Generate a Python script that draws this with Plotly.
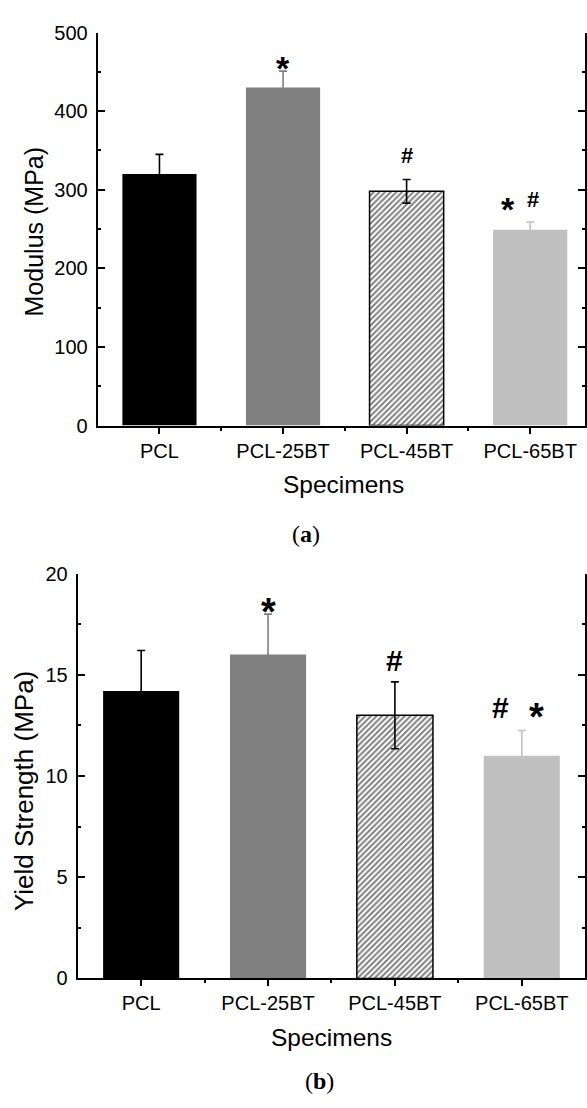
import plotly.graph_objects as go

# ---------------- data ----------------
categories = ["PCL", "PCL-25BT", "PCL-45BT", "PCL-65BT"]
modulus = [320, 430, 298, 249]
modulus_err = [25, 21, 15, 10]
yield_strength = [14.2, 16.0, 13.0, 11.0]
yield_err = [2.0, 2.0, 1.65, 1.25]

bar_colors = ["#000000", "#808080", "#ffffff", "#c0c0c0"]
err_colors = ["#000000", "#808080", "#000000", "#c0c0c0"]
hatch = ["", "", "/", ""]

# significance markers: (x position, text, y position in data units)
sig_a = [(1.0, "*", 467), (2.0, "#", 343), (2.82, "*", 287), (3.02, "#", 287)]
sig_b = [(1.0, "*", 18.6), (2.0, "#", 15.7), (2.83, "#", 13.4), (3.12, "*", 13.4)]

y_ticks_a = [0, 100, 200, 300, 400, 500]
y_ticks_b = [0, 5, 10, 15, 20]

W, H = 587, 1108
FONT = "Liberation Sans, Arial, sans-serif"
SERIF = "Liberation Serif, DejaVu Serif, serif"

fig = go.Figure()
xs = list(range(len(categories)))


def add_bars(values, errs, xa, ya):
    for i, cat in enumerate(categories):
        fig.add_trace(go.Bar(
            x=[xs[i]], y=[values[i]], name=cat, width=0.6,
            marker=dict(
                color=bar_colors[i],
                line=dict(color="#000000", width=1.5 if hatch[i] else 0),
                pattern=dict(shape=hatch[i], fgcolor="#000000", bgcolor="#ffffff",
                             size=4, solidity=0.5) if hatch[i] else None,
            ),
            error_y=dict(type="data", array=[errs[i]], visible=True,
                         color=err_colors[i], thickness=1.6, width=4),
            xaxis=xa, yaxis=ya, showlegend=False,
        ))


add_bars(modulus, modulus_err, "x", "y")
add_bars(yield_strength, yield_err, "x2", "y2")


def px_x(p):
    return p / W


def px_y(p):
    return 1 - p / H


axis_common = dict(showline=True, linecolor="#000000", linewidth=2,
                   showgrid=False, zeroline=False,
                   tickfont=dict(family=FONT, size=20, color="#000000"))

xa_dom = [px_x(98), 1.0]
xa_range = [-0.5, -0.5 + (W - 98) / 124.0]
xb_dom = [px_x(78), 1.0]
xb_range = [-0.5, -0.5 + (W - 78) / 127.3]

ya_dom = [px_y(423), px_y(22)]
yb_dom = [px_y(987), px_y(574)]

tick_style = dict(tickwidth=1.5, tickcolor="#000000")
minor_x_out = dict(tickvals=[0.5, 1.5, 2.5], ticks="outside", ticklen=3, **tick_style)
minor_x_in = dict(tickvals=[0.5, 1.5, 2.5], ticks="inside", ticklen=3, **tick_style)

fig.update_layout(
    width=W, height=H,
    margin=dict(l=0, r=0, t=0, b=0),
    paper_bgcolor="#ffffff", plot_bgcolor="#ffffff",
    barmode="overlay",
    xaxis=dict(axis_common, domain=xa_dom, range=xa_range, anchor="y",
               tickvals=xs, ticktext=categories, ticks="outside", ticklen=6,
               minor=minor_x_out, **tick_style),
    xaxis3=dict(axis_common, domain=xa_dom, range=xa_range, anchor="y",
                overlaying="x", side="top", tickvals=xs, showticklabels=False,
                ticks="inside", ticklen=6, minor=minor_x_in, **tick_style),
    yaxis=dict(axis_common, domain=ya_dom, range=[0, 500], anchor="x",
               tickvals=y_ticks_a, ticks="inside", ticklen=7, mirror="ticks",
               ticklabelstandoff=4,
               minor=dict(dtick=50, ticks="inside", ticklen=3, **tick_style),
               **tick_style),
    xaxis2=dict(axis_common, domain=xb_dom, range=xb_range, anchor="y2",
                tickvals=xs, ticktext=categories, ticks="outside", ticklen=6,
                minor=minor_x_out, **tick_style),
    xaxis4=dict(axis_common, domain=xb_dom, range=xb_range, anchor="y2",
                overlaying="x2", side="top", tickvals=xs, showticklabels=False,
                ticks="inside", ticklen=6, minor=minor_x_in, **tick_style),
    yaxis2=dict(axis_common, domain=yb_dom, range=[0, 20], anchor="x2",
                tickvals=y_ticks_b, ticks="inside", ticklen=7, mirror="ticks",
                ticklabelstandoff=4,
                minor=dict(dtick=2.5, ticks="inside", ticklen=3, **tick_style),
                **tick_style),
)

annotations = []
for (x, t, y) in sig_a:
    annotations.append(dict(x=x, y=y, xref="x", yref="y", text="<b>%s</b>" % t,
                            showarrow=False, xanchor="center", yanchor="middle",
                            font=dict(family=FONT, size=34 if t == "*" else 22,
                                      color="#000000"),
                            yshift=-9 if t == "*" else 0))
for (x, t, y) in sig_b:
    annotations.append(dict(x=x, y=y, xref="x2", yref="y2", text="<b>%s</b>" % t,
                            showarrow=False, xanchor="center", yanchor="middle",
                            font=dict(family=FONT, size=38 if t == "*" else 30,
                                      color="#000000"),
                            yshift=-10 if t == "*" else 0))


def label(x, y, text, size=24, angle=0, family=FONT):
    return dict(x=px_x(x), y=px_y(y), xref="paper", yref="paper", text=text,
                textangle=angle, showarrow=False, xanchor="center",
                yanchor="middle", font=dict(family=family, size=size,
                                            color="#000000"))


annotations += [
    label(34, 225, "Modulus (MPa)", size=25, angle=-90),
    label(345, 483, "Specimens", size=24.5),
    label(307, 534, "(<b>a</b>)", size=24, family=SERIF),
    label(24, 796, "Yield Strength (MPa)", size=26, angle=-90),
    label(333, 1047, "Specimens", size=24.5),
    label(321, 1092, "(<b>b</b>)", size=24, family=SERIF),
]
fig.update_layout(annotations=annotations)

post = (
    "document.documentElement.style.margin='0';"
    "document.documentElement.style.padding='0';"
    "document.documentElement.style.overflow='hidden';"
    "document.body.style.margin='0';"
    "document.body.style.padding='0';"
    "document.body.style.overflow='hidden';"
    "document.body.style.height='1108px';"
    "var gd=document.getElementById('{plot_id}');"
    "gd.style.position='absolute';gd.style.left='0px';gd.style.top='0px';"
)

fig.write_html("out.html", config={"displayModeBar": False}, post_script=post)
